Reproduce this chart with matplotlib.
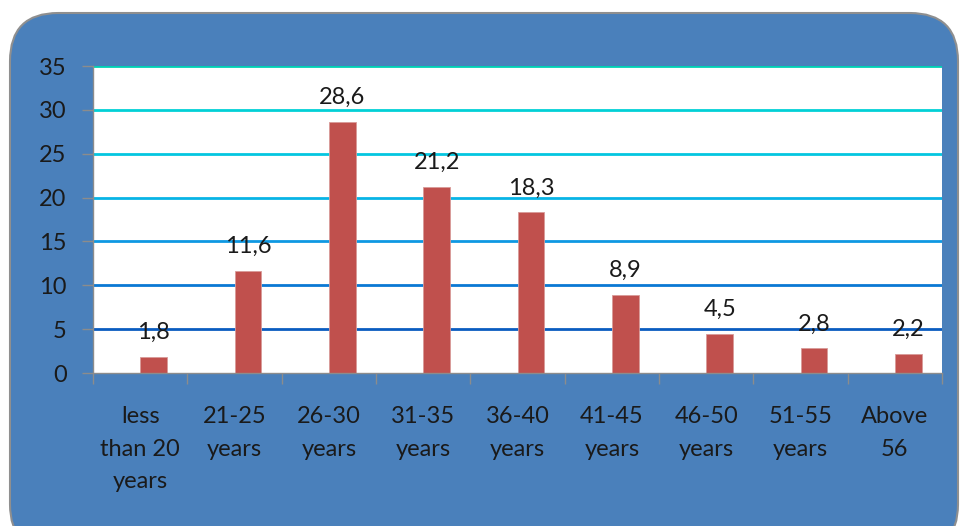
import matplotlib.pyplot as plt
from matplotlib.patches import FancyBboxPatch
import numpy as np

categories = ["less\nthan 20\nyears", "21-25\nyears", "26-30\nyears", "31-35\nyears",
              "36-40\nyears", "41-45\nyears", "46-50\nyears", "51-55\nyears", "Above\n56"]
values = [1.8, 11.6, 28.6, 21.2, 18.3, 8.9, 4.5, 2.8, 2.2]
yticks = [0, 5, 10, 15, 20, 25, 30, 35]
# gridline colours shade from blue at the bottom to teal at the top
grid_colors = ["#0a5cc0", "#0a78d4", "#0e98e2", "#08b4e6", "#04c6e0", "#02d0d6", "#00d0b4"]

plt.rcParams['font.family'] = ['Lato', 'DejaVu Sans']
text_color = "#1a1a1a"
fs = 17

fig = plt.figure(figsize=(9.63, 5.26), dpi=100)
fig.patch.set_facecolor("white")

# rounded blue panel behind the chart
panel = FancyBboxPatch((10 / 963, -0.05), 948 / 963, (526 - 13) / 526 + 0.05,
                       boxstyle="round,pad=0,rounding_size=0.05",
                       transform=fig.transFigure, facecolor="#4a80bb",
                       edgecolor="#8f8f8f", linewidth=1.5, zorder=-1,
                       mutation_aspect=963 / 526)
fig.patches.append(panel)

ax = fig.add_axes([93 / 963, 1 - 373 / 526, (942 - 93) / 963, (373 - 66) / 526])
ax.set_zorder(1)
ax.set_facecolor("white")

x = np.arange(len(categories))
bar_w = 0.286
ax.bar(x + bar_w / 2, values, width=bar_w, color="#c0504d", edgecolor="#d89a98",
       linewidth=0.6, zorder=3)

for xi, v in zip(x, values):
    ax.text(xi + bar_w / 2, v + 1.6, f"{v:.1f}".replace(".", ","), ha="center",
            va="bottom", fontsize=fs, color=text_color, zorder=4)

for yv, c in zip(yticks[1:], grid_colors):
    ax.axhline(yv, color=c, linewidth=2, zorder=1)

ax.set_xlim(-0.5, len(categories) - 0.5)
ax.set_ylim(0, 35)
ax.set_yticks(yticks)
ax.set_yticklabels([str(t) for t in yticks], fontsize=fs, color=text_color)

ax.set_xticks(np.arange(len(categories) + 1) - 0.5)
ax.set_xticklabels([])
ax.set_xticks(x, minor=True)
ax.set_xticklabels(categories, minor=True, fontsize=fs, color=text_color,
                   linespacing=1.68, va="top")
ax.tick_params(axis="x", which="minor", length=0, pad=24)
ax.tick_params(axis="x", which="major", length=8, color="#8c8c8c", width=1)
ax.tick_params(axis="y", length=8, color="#8c8c8c", width=1, pad=11)

for side in ["top", "right"]:
    ax.spines[side].set_visible(False)
for side in ["left", "bottom"]:
    ax.spines[side].set_color("#8c8c8c")
    ax.spines[side].set_linewidth(1)
    ax.spines[side].set_zorder(5)

fig.savefig("out.png", dpi=100, facecolor="white")
